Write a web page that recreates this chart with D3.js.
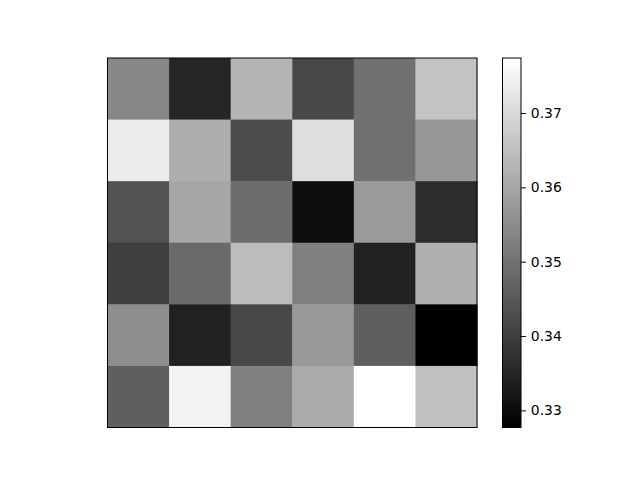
<!DOCTYPE html>
<html>
<head>
<meta charset="utf-8">
<script src="https://cdn.jsdelivr.net/npm/d3@7"></script>
<style>
  body { margin: 0; background: #fff; }
  svg { display: block; font-family: "DejaVu Sans", sans-serif; }
</style>
</head>
<body>
<div id="chart"></div>
<script>
// grid values, row 0 at the top
var rows = [0, 1, 2, 3, 4, 5];
var cols = [0, 1, 2, 3, 4, 5];
var values = [
	[0.3540, 0.3351, 0.3628, 0.3417, 0.3495, 0.3657],
	[0.3737, 0.3616, 0.3425, 0.3710, 0.3495, 0.3571],
	[0.3439, 0.3601, 0.3487, 0.3304, 0.3577, 0.3363],
	[0.3402, 0.3482, 0.3643, 0.3526, 0.3341, 0.3620],
	[0.3554, 0.3341, 0.3417, 0.3575, 0.3462, 0.3277],
	[0.3462, 0.3749, 0.3526, 0.3610, 0.3774, 0.3653]
];
var colorTicks = [0.33, 0.34, 0.35, 0.36, 0.37];

var width = 640, height = 480;

var svg = d3.select("#chart").append("svg")
	.attr("width", width)
	.attr("height", height);

// heatmap area
var hm = {left: 107.5, top: 58, size: 369.5};

var x = d3.scaleBand().domain(cols).range([hm.left, hm.left + hm.size]);
var y = d3.scaleBand().domain(rows).range([hm.top, hm.top + hm.size]);

var flat = [];
values.forEach(function(row, r) {
	row.forEach(function(v, c) { flat.push({r: r, c: c, v: v}); });
});

var vExtent = d3.extent(flat, function(d) { return d.v; });
var color = d3.scaleLinear().domain(vExtent).range(["#000000", "#ffffff"]);

svg.append("g").selectAll("rect")
	.data(flat)
	.enter()
	.append("rect")
	.attr("x", function(d) { return x(d.c); })
	.attr("y", function(d) { return y(d.r); })
	.attr("width", x.bandwidth() + 0.5)
	.attr("height", y.bandwidth() + 0.5)
	.attr("fill", function(d) { return color(d.v); });

svg.append("rect")
	.attr("x", hm.left)
	.attr("y", hm.top)
	.attr("width", hm.size)
	.attr("height", hm.size)
	.attr("fill", "none")
	.attr("stroke", "#000")
	.attr("stroke-width", 1);

// colorbar
var cb = {left: 502.5, top: 58, width: 18.5, height: 369.5};

var cy = d3.scaleLinear().domain(vExtent).range([cb.top + cb.height, cb.top]);

var grad = svg.append("defs").append("linearGradient")
	.attr("id", "cbgrad")
	.attr("x1", 0).attr("y1", 1).attr("x2", 0).attr("y2", 0);
grad.append("stop").attr("offset", "0%").attr("stop-color", color(vExtent[0]));
grad.append("stop").attr("offset", "100%").attr("stop-color", color(vExtent[1]));

svg.append("rect")
	.attr("x", cb.left)
	.attr("y", cb.top)
	.attr("width", cb.width)
	.attr("height", cb.height)
	.attr("fill", "url(#cbgrad)")
	.attr("stroke", "#000")
	.attr("stroke-width", 1);

var cAxis = d3.axisRight(cy)
	.tickValues(colorTicks)
	.tickFormat(d3.format(".2f"))
	.tickSize(4.9)
	.tickPadding(4.9)
	.tickSizeOuter(0);

var ag = svg.append("g")
	.attr("transform", "translate(" + (cb.left + cb.width) + ",0)")
	.call(cAxis);
ag.select(".domain").remove();
ag.selectAll("line").attr("stroke", "#000").attr("stroke-width", 1);
ag.selectAll("text")
	.attr("fill", "#000")
	.style("font-family", "'DejaVu Sans', sans-serif")
	.style("font-size", "13.9px");
</script>
</body>
</html>
